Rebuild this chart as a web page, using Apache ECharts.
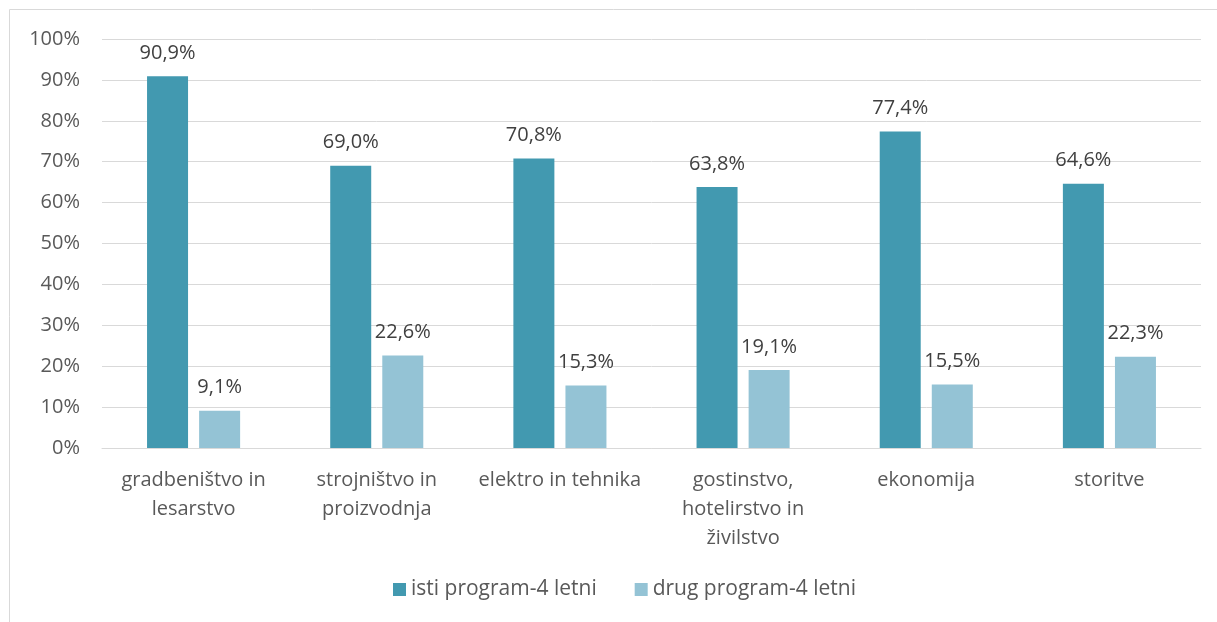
<!DOCTYPE html>
<html style="height: 100%">
<head>
<meta charset="utf-8">
</head>
<body style="width: 100%; height: 100%; margin:0; background:#fff;">
<div id="container" style="width:1217px; height:622px"></div>
<script type="text/javascript" src="https://cdn.jsdelivr.net/npm/echarts@6/dist/echarts.min.js"></script>
<script type="text/javascript">
var categories = ['gradbeništvo in\nlesarstvo', 'strojništvo in\nproizvodnja', 'elektro in tehnika', 'gostinstvo,\nhotelirstvo in\nživilstvo', 'ekonomija', 'storitve'];
var seriesNames = ['isti program-4 letni', 'drug program-4 letni'];
var istiValues = [90.9, 69.0, 70.8, 63.8, 77.4, 64.6];
var drugValues = [9.1, 22.6, 15.3, 19.1, 15.5, 22.3];

var font = 'Open Sans';
var fs = 20;
var myChart = echarts.init(document.getElementById('container'));

function pct(p) {
	return p.value.toFixed(1).replace('.', ',') + '%';
}

var option = {
	animation: false,
	textStyle: { fontFamily: font },
	graphic: [{
		type: 'rect',
		shape: { x: 9.5, y: 9.5, width: 1240, height: 700 },
		style: { fill: 'none', stroke: '#d9d9d9', lineWidth: 1 }
	}],
	grid: { left: 102, right: 16, top: 39, bottom: 174 },
	legend: {
		data: seriesNames,
		bottom: 17,
		left: 388,
		itemWidth: 13,
		itemHeight: 13,
		itemGap: 38,
		icon: 'rect',
		textStyle: { fontFamily: font, fontSize: 21, color: '#595959' }
	},
	xAxis: {
		type: 'category',
		data: categories,
		axisLine: { lineStyle: { color: '#d9d9d9', width: 1 } },
		axisTick: { show: false },
		axisLabel: { color: '#595959', fontSize: fs, fontFamily: font, margin: 18, lineHeight: 29, interval: 0 }
	},
	yAxis: {
		type: 'value',
		min: 0,
		max: 100,
		interval: 10,
		axisLine: { show: false },
		axisTick: { show: false },
		splitLine: { lineStyle: { color: '#d9d9d9', width: 1 } },
		axisLabel: { color: '#595959', fontSize: fs, fontFamily: font, margin: 22, formatter: '{value}%' }
	},
	series: [
		{
			name: seriesNames[0],
			type: 'bar',
			data: istiValues,
			barWidth: 41,
			barGap: '27%',
			itemStyle: { color: '#4299b0' },
			label: { show: true, position: 'top', distance: 13, color: '#404040', fontSize: fs, fontFamily: font, formatter: pct }
		},
		{
			name: seriesNames[1],
			type: 'bar',
			data: drugValues,
			barWidth: 41,
			itemStyle: { color: '#94c3d5' },
			label: { show: true, position: 'top', distance: 13, color: '#404040', fontSize: fs, fontFamily: font, formatter: pct }
		}
	]
};
myChart.setOption(option);
</script>
</body>
</html>
